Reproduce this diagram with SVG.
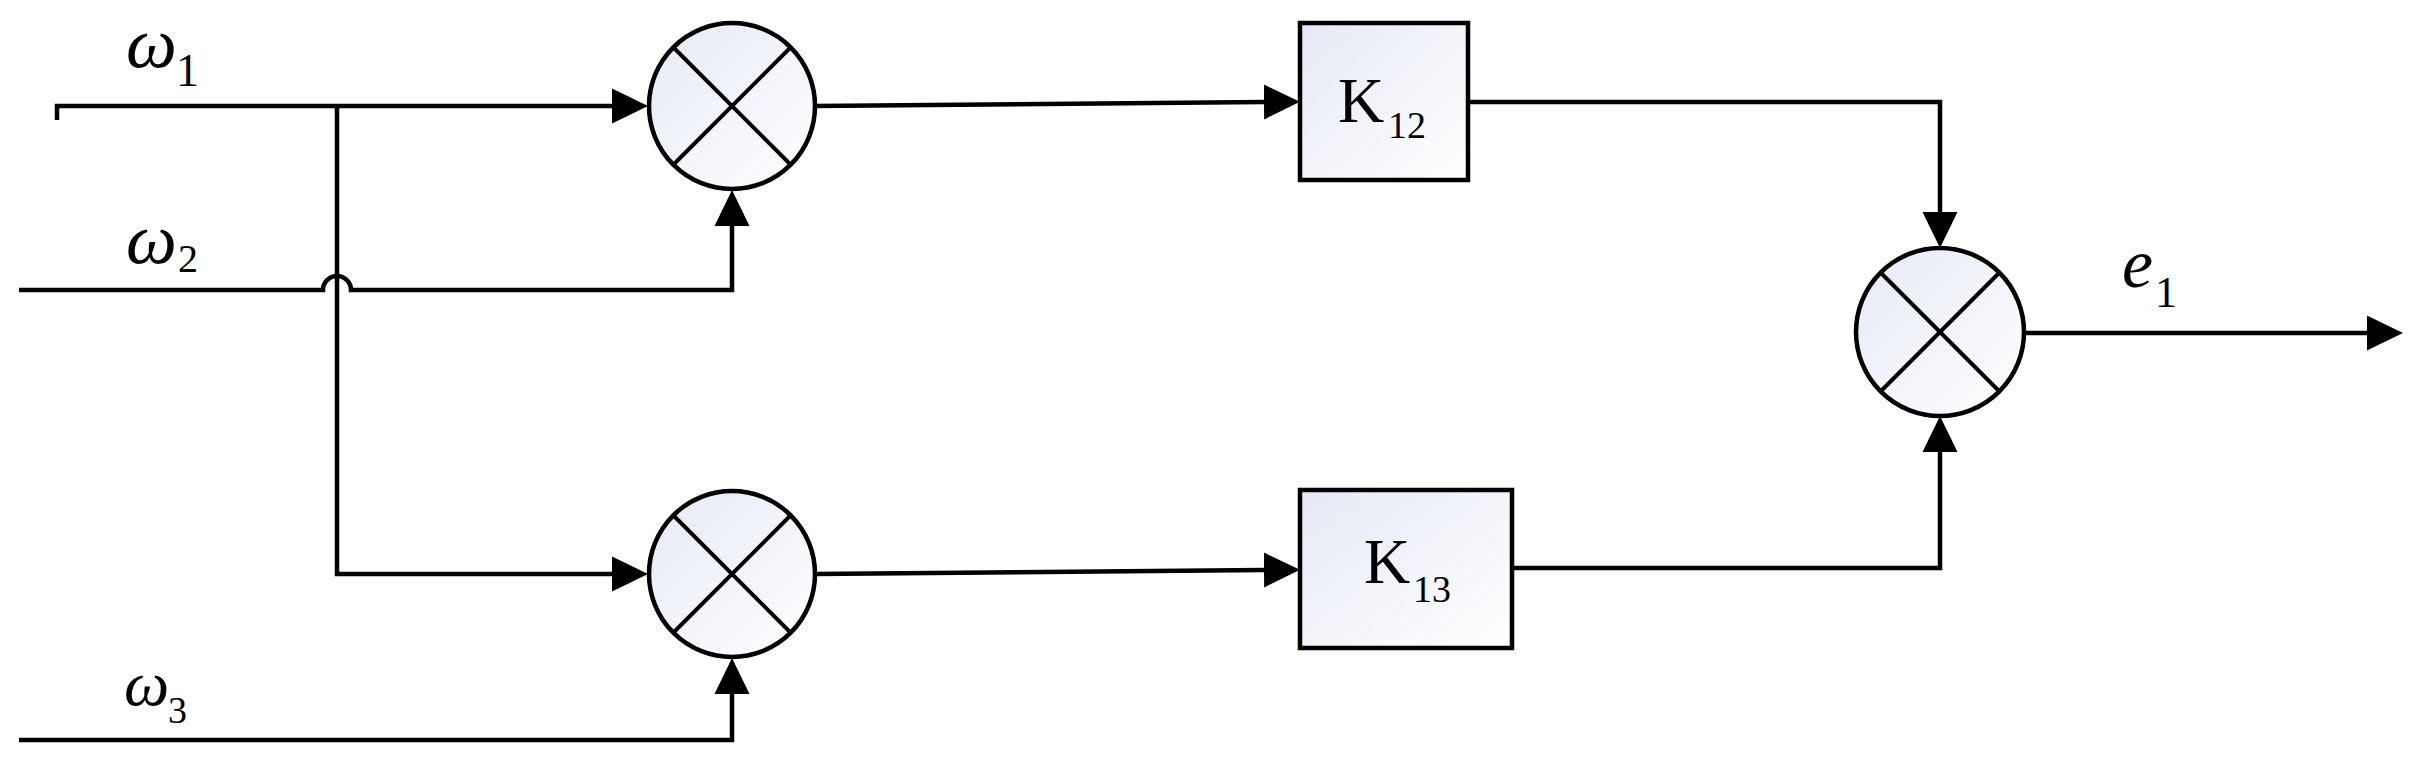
<svg xmlns="http://www.w3.org/2000/svg" width="2413" height="765" viewBox="0 0 2413 765">
<style>
.ln{fill:none;stroke:#000;stroke-width:4.5;stroke-linejoin:miter}
.nd{stroke:#000;stroke-width:4.5;fill:url(#g)}
.x{stroke:#000;stroke-width:4}
.sym{font-family:"Liberation Serif",serif;font-style:italic;fill:#000}
.k{font-family:"Liberation Serif",serif;fill:#000}
.sub{font-family:"Liberation Serif",serif;fill:#000}
</style>
<defs>
<linearGradient id="g" x1="0" y1="0" x2="1" y2="1">
<stop offset="0" stop-color="#E6E9F5"/>
<stop offset="1" stop-color="#FFFFFF"/>
</linearGradient>
<marker id="ah" markerUnits="userSpaceOnUse" markerWidth="40" markerHeight="40" viewBox="0 -20 40 40" refX="0" refY="0" orient="auto">
<path d="M0,-17.5 L36,0 L0,17.5 Z" fill="#000"/>
</marker>
</defs>
<rect width="2413" height="765" fill="#fff"/>
<g id="connectors">
<path class="ln" d="M57,120 L57,106 L612,106" marker-end="url(#ah)"/>
<path class="ln" d="M337,106 L337,574 L612,574" marker-end="url(#ah)"/>
<path class="ln" d="M19,290 L323,290 A14,14 0 0 1 351,290 L732,290 L732,226" marker-end="url(#ah)"/>
<path class="ln" d="M19,740 L732,740 L732,694" marker-end="url(#ah)"/>
<path class="ln" d="M815,106 L1264,102" marker-end="url(#ah)"/>
<path class="ln" d="M815,574 L1264,570" marker-end="url(#ah)"/>
<path class="ln" d="M1468,102 L1940,102 L1940,212" marker-end="url(#ah)"/>
<path class="ln" d="M1512,568 L1940,568 L1940,452" marker-end="url(#ah)"/>
<path class="ln" d="M2024,333 L2367,333" marker-end="url(#ah)"/>
</g>
<g id="sum1">
<circle class="nd" cx="732" cy="106" r="83"/>
<path class="x" d="M673,47 L791,165 M791,47 L673,165"/>
</g>
<g id="sum2">
<circle class="nd" cx="732" cy="574" r="83"/>
<path class="x" d="M673,515 L791,633 M791,515 L673,633"/>
</g>
<g id="sum3">
<circle class="nd" cx="1940" cy="332" r="84"/>
<path class="x" d="M1880,272 L2000,392 M2000,272 L1880,392"/>
</g>
<g id="K12">
<rect class="nd" x="1300" y="23" width="168" height="157"/>
<text class="k" x="1338" y="122" font-size="64">K</text>
<text class="sub" x="1388" y="138" font-size="38">12</text>
</g>
<g id="K13">
<rect class="nd" x="1300" y="490" width="212" height="158"/>
<text class="k" x="1364" y="583" font-size="64">K</text>
<text class="sub" x="1413" y="602" font-size="38">13</text>
</g>
<g id="labels">
<text class="sym" x="126" y="67" font-size="72">ω</text>
<text class="sub" x="176" y="86" font-size="46">1</text>
<text class="sym" x="126" y="263" font-size="72">ω</text>
<text class="sub" x="178" y="272" font-size="40">2</text>
<text class="sym" x="124" y="705" font-size="64">ω</text>
<text class="sub" x="168" y="723" font-size="38">3</text>
<text class="sym" x="2122" y="287" font-size="70">e</text>
<text class="sub" x="2155" y="307" font-size="44">1</text>
</g>
</svg>
